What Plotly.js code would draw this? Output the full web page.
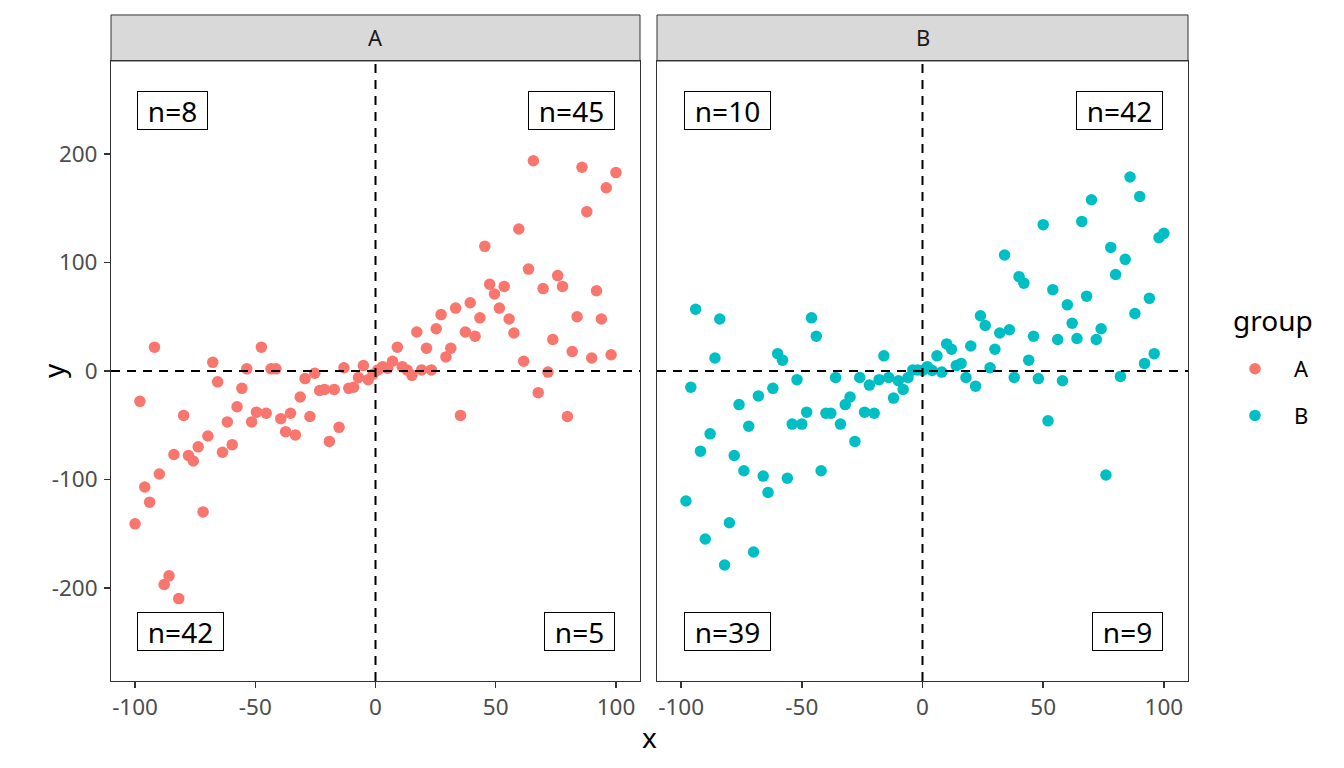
<!DOCTYPE html>
<html>
<head>
<meta charset="utf-8">
<script src="https://cdn.plot.ly/plotly-3.0.1.min.js"></script>
<style>
  html, body { margin: 0; padding: 0; background: #fff; }
  #chart { width: 1344px; height: 768px; }
</style>
</head>
<body>
<div id="chart"></div>
<script>
// group A: 100 evenly spaced x values from -100 to 100
const xA = [
  -100, -97.98, -95.96, -93.94, -91.92, -89.9, -87.88, -85.86, -83.84, -81.82,
  -79.8, -77.78, -75.76, -73.74, -71.72, -69.7, -67.68, -65.66, -63.64, -61.62,
  -59.6, -57.58, -55.56, -53.54, -51.52, -49.49, -47.47, -45.45, -43.43, -41.41,
  -39.39, -37.37, -35.35, -33.33, -31.31, -29.29, -27.27, -25.25, -23.23, -21.21,
  -19.19, -17.17, -15.15, -13.13, -11.11, -9.09, -7.07, -5.05, -3.03, -1.01,
  1.01, 3.03, 5.05, 7.07, 9.09, 11.11, 13.13, 15.15, 17.17, 19.19,
  21.21, 23.23, 25.25, 27.27, 29.29, 31.31, 33.33, 35.35, 37.37, 39.39,
  41.41, 43.43, 45.45, 47.47, 49.49, 51.52, 53.54, 55.56, 57.58, 59.6,
  61.62, 63.64, 65.66, 67.68, 69.7, 71.72, 73.74, 75.76, 77.78, 79.8,
  81.82, 83.84, 85.86, 87.88, 89.9, 91.92, 93.94, 95.96, 97.98, 100
]
const yA = [
  -141, -28, -107, -121, 22, -95, -197, -189, -77, -210,
  -41, -78, -83, -70, -130, -60, 8, -10, -75, -47,
  -68, -33, -16, 2, -47, -38, 22, -39, 2, 2,
  -44, -56, -39, -59, -24, -7, -42, -2, -18, -17,
  -65, -17, -52, 3, -16, -15, -6, 5, -8, -3,
  1, 4, 2.5, 9, 22, 4, 1, -4, 36, 1,
  21, 1, 39, 52, 13, 21, 58, -41, 36, 63,
  32, 49, 115, 80, 71, 58, 78, 48, 35, 131,
  9, 94, 194, -20, 76, -1, 29, 88, 78, -42,
  18, 50, 188, 147, 12, 74, 48, 169, 15, 183
]

// group B: x from -98 to 100 in steps of 2
const xB = [
  -98, -96, -94, -92, -90, -88, -86, -84, -82, -80,
  -78, -76, -74, -72, -70, -68, -66, -64, -62, -60,
  -58, -56, -54, -52, -50, -48, -46, -44, -42, -40,
  -38, -36, -34, -32, -30, -28, -26, -24, -22, -20,
  -18, -16, -14, -12, -10, -8, -6, -4, -2, 0,
  2, 4, 6, 8, 10, 12, 14, 16, 18, 20,
  22, 24, 26, 28, 30, 32, 34, 36, 38, 40,
  42, 44, 46, 48, 50, 52, 54, 56, 58, 60,
  62, 64, 66, 68, 70, 72, 74, 76, 78, 80,
  82, 84, 86, 88, 90, 92, 94, 96, 98, 100
]
const yB = [
  -120, -15, 57, -74, -155, -58, 12, 48, -179, -140,
  -78, -31, -92, -51, -167, -23, -97, -112, -16, 16,
  10, -99, -49, -8, -49, -38, 49, 32, -92, -39,
  -39, -6, -49, -31, -24, -65, -6, -38, -13, -39,
  -8, 14, -6, -25, -9, -17, -6, 1, 1, 0.5,
  4, 0.5, 14, -1, 25, 20, 5, 7, -6, 23,
  -14, 51, 42, 3, 20, 35, 107, 38, -6, 87,
  81, 10, 32, -7, 135, -46, 75, 29, -9, 61,
  44, 30, 138, 69, 158, 29, 39, -96, 114, 89,
  -5, 103, 179, 53, 161, 7, 67, 16, 123, 127
]

const groups = ['A', 'B']
const colors = ['#F8766D', '#00BFC4']
// quadrant counts: [top-left, top-right, bottom-left, bottom-right]
const countsA = ['n=8', 'n=45', 'n=42', 'n=5']
const countsB = ['n=10', 'n=42', 'n=39', 'n=9']
const labelX = [-99, 99.5]
const labelY = [240, -240]
const xTicks = [-100, -50, 0, 50, 100]
const yTicks = [-200, -100, 0, 100, 200]

const FONT = 'Noto Sans, DejaVu Sans, sans-serif'
const INK = '#333333'
const TICK_SIZE = 22.5
const LABEL_SIZE = 28

// measure label text so the boxes get ggplot-like side padding
const ctx = document.createElement('canvas').getContext('2d')
ctx.font = `${LABEL_SIZE}px "Noto Sans"`
const textWidth = s => ctx.measureText(s).width

const traces = [
  { x: xA, y: yA, name: groups[0], xaxis: 'x', yaxis: 'y', legendgroup: 'A' },
  { x: xB, y: yB, name: groups[1], xaxis: 'x2', yaxis: 'y2', legendgroup: 'B' },
].map((t, i) => ({
  ...t,
  type: 'scatter',
  mode: 'markers',
  marker: { color: colors[i], size: 11.5 },
  hoverinfo: 'x+y',
}))

const axisX = domain => ({
  domain,
  range: [-110, 110],
  tickvals: xTicks,
  ticktext: xTicks.map(String),
  ticks: 'outside', ticklen: 6, tickcolor: INK, tickwidth: 1.5,
  tickfont: { family: FONT, size: TICK_SIZE, color: '#4D4D4D' },
  showgrid: false, zeroline: false,
  showline: true, mirror: true, linecolor: INK, linewidth: 1,
})
const axisY = (showLabels, anchor) => ({
  domain: [0.1133, 0.9206],
  range: [-286, 286],
  anchor,
  tickvals: yTicks,
  ticktext: yTicks.map(String),
  ticks: showLabels ? 'outside' : '', ticklen: 6, tickcolor: INK, tickwidth: 1.5,
  ticklabelstandoff: 2,
  showticklabels: showLabels,
  tickfont: { family: FONT, size: TICK_SIZE, color: '#4D4D4D' },
  showgrid: false, zeroline: false,
  showline: true, mirror: true, linecolor: INK, linewidth: 1,
})

const shapes = []
const annotations = []
const panels = [['x', 'y', countsA], ['x2', 'y2', countsB]]
panels.forEach(([xa, ya, counts], p) => {
  // facet strip
  shapes.push({
    type: 'rect', xref: xa + ' domain', yref: 'paper',
    x0: 0, x1: 1, y0: 0.9206, y1: 0.9805,
    fillcolor: '#D9D9D9', line: { color: INK, width: 1 }, layer: 'below',
  })
  annotations.push({
    xref: xa + ' domain', yref: 'paper', x: 0.5, y: 1 - 37 / 768,
    xanchor: 'center', yanchor: 'middle',
    text: groups[p], showarrow: false,
    font: { family: FONT, size: 22, color: '#1A1A1A' },
  })
  // dashed zero lines
  shapes.push({
    type: 'line', xref: xa, yref: ya + ' domain', x0: 0, x1: 0, y0: 0, y1: 1,
    line: { color: '#000', width: 2, dash: '9px,7px' },
  })
  shapes.push({
    type: 'line', xref: xa + ' domain', yref: ya, x0: 0, x1: 1, y0: 0, y1: 0,
    line: { color: '#000', width: 2, dash: '9px,7px' },
  })
  // quadrant counts
  counts.forEach((txt, q) => {
    const right = q % 2 === 1
    annotations.push({
      xref: xa, yref: ya,
      x: labelX[right ? 1 : 0], y: labelY[q < 2 ? 0 : 1],
      xanchor: right ? 'right' : 'left', yanchor: 'middle',
      text: txt, showarrow: false,
      width: Math.round(textWidth(txt) + 16), height: 33,
      font: { family: FONT, size: LABEL_SIZE, color: '#000' },
      bgcolor: '#fff', bordercolor: '#000', borderwidth: 1, borderpad: 2,
    })
  })
})

// axis titles shared by both panels, and the legend title
annotations.push({
  xref: 'paper', yref: 'paper', x: 649 / 1344, y: 1 - 737 / 768,
  text: 'x', showarrow: false, yanchor: 'middle',
  font: { family: FONT, size: 28, color: '#000' },
})
annotations.push({
  xref: 'paper', yref: 'paper', x: 32 / 1344, y: 1 - 371 / 768,
  text: 'y', showarrow: false, textangle: -90,
  font: { family: FONT, size: 28, color: '#000' },
})
annotations.push({
  xref: 'paper', yref: 'paper', x: 1231 / 1344, y: 1 - 320 / 768,
  xanchor: 'left', yanchor: 'middle',
  text: 'group', showarrow: false,
  font: { family: FONT, size: 28, color: '#000' },
})

const layout = {
  width: 1344, height: 768,
  margin: { l: 0, r: 0, t: 0, b: 0 },
  paper_bgcolor: '#fff', plot_bgcolor: '#fff',
  font: { family: FONT },
  showlegend: true,
  xaxis: axisX([111 / 1344, 640 / 1344]),
  xaxis2: axisX([657 / 1344, 1188 / 1344]),
  yaxis: axisY(true, 'x'),
  yaxis2: axisY(false, 'x2'),
  legend: {
    x: 1216 / 1344, xanchor: 'left',
    y: 1 - 348 / 768, yanchor: 'top',
    font: { family: FONT, size: 22, color: '#000' },
    itemwidth: 68,
    tracegroupgap: 15,
    bgcolor: 'rgba(0,0,0,0)',
  },
  shapes,
  annotations,
}

Plotly.newPlot('chart', traces, layout, { staticPlot: true })
</script>
</body>
</html>
